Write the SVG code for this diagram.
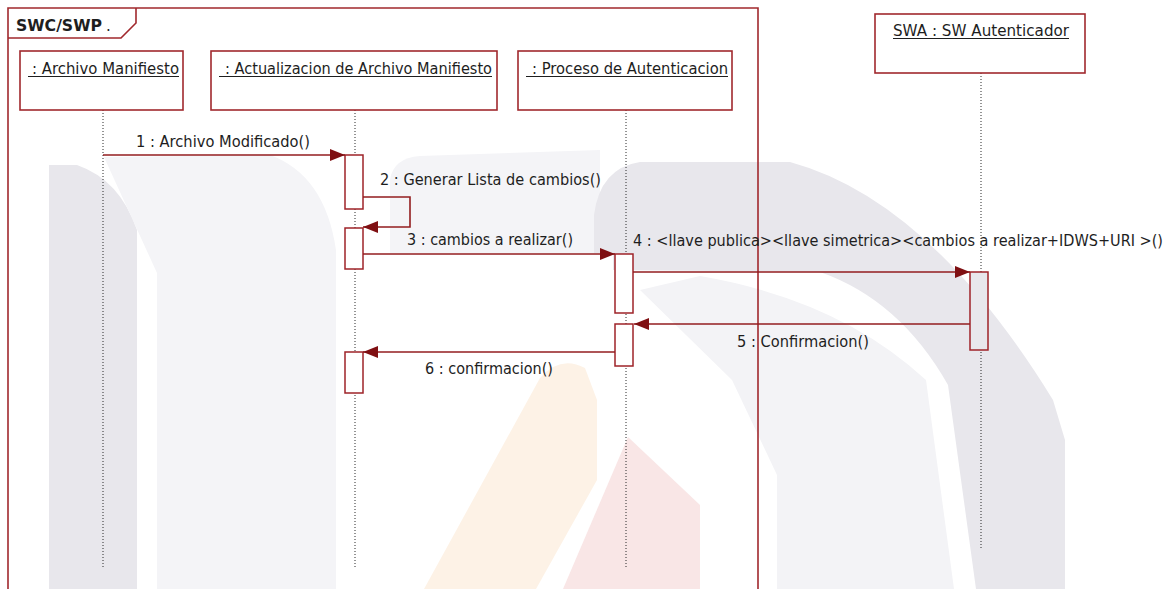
<svg xmlns="http://www.w3.org/2000/svg" width="1175" height="589" viewBox="0 0 1175 589">
<style>
.t{font-family:"DejaVu Sans","Liberation Sans",sans-serif;font-size:15px;fill:#1e1e1e}
.b{font-weight:bold}
.hd{fill:#fff;stroke:#a1282d;stroke-width:1.6}
.act{fill:#fff;stroke:#9e2328;stroke-width:1.5}
.ul{stroke:#1e1e1e;stroke-width:1}
.life{stroke:#2a2a2a;stroke-width:1;stroke-dasharray:1 2;fill:none}
.msg{fill:none;stroke:#931d1f;stroke-width:1.6}
.frame{fill:none;stroke:#a1282d;stroke-width:1.6}
</style>
<defs>
<marker id="ah" markerUnits="userSpaceOnUse" markerWidth="16" markerHeight="13" refX="15" refY="6" orient="auto" viewBox="0 0 16 13">
<path d="M0 0 L15 6 L0 12 Z" fill="#7f0f12"/>
</marker>
</defs>
<rect width="1175" height="589" fill="#fff"/>
<g id="watermark">
<path d="M49 165 L77 165 Q120 180 137 230 L137 589 L49 589 Z" fill="#e8e7ec"/>
<path d="M104 157 L270 155 Q325 175 336 250 L336 589 L157 589 L157 273 Z" fill="#f4f4f7"/>
<path d="M390 253 L390 180 Q393 158 420 156 L600 150 L600 253 Z" fill="#f4f4f7"/>
<path d="M640 290 L700 276 Q840 300 926 380 L954 589 L777 589 L777 475 L732 380 Z" fill="#f3f3f6"/>
<path d="M594 253 L594 215 Q600 168 640 162 L790 162 Q930 200 1053 400 L1065 440 L1065 589 L976 589 L948 385 Q900 300 820 272 L613 270 L613 253 Z" fill="#e8e7ec"/>
<path d="M424 589 L540 378 Q560 355 585 368 L597 400 L597 480 L536 589 Z" fill="#fdf2e6"/>
<path d="M563 589 L628 437 L700 505 L700 589 Z" fill="#f9e6e6"/>
</g>
<g id="frame">
<path class="frame" d="M8 589 L8 8 L758 8 L758 589"/>
<path class="frame" d="M8 38 L121 38 L136 23 L136 8"/>
<text class="t b" x="16" y="31" font-size="16" textLength="86" lengthAdjust="spacingAndGlyphs">SWC/SWP</text>
<text class="t" x="106" y="31">.</text>
</g>
<g id="lifelines">
<line class="life" x1="103" y1="110" x2="103" y2="568"/>
<line class="life" x1="355" y1="110" x2="355" y2="568"/>
<line class="life" x1="626" y1="110" x2="626" y2="568"/>
<line class="life" x1="981" y1="73" x2="981" y2="548"/>
</g>
<g id="archivo-manifiesto">
<rect class="hd" x="20" y="51" width="163" height="59"/>
<text class="t" x="32" y="74" textLength="147" lengthAdjust="spacingAndGlyphs">: Archivo Manifiesto</text>
<line class="ul" x1="28" y1="76.5" x2="179" y2="76.5"/>
</g>
<g id="actualizacion">
<rect class="hd" x="211" y="51" width="286" height="59"/>
<text class="t" x="225" y="74" textLength="267" lengthAdjust="spacingAndGlyphs">: Actualizacion de Archivo Manifiesto</text>
<line class="ul" x1="219" y1="76.5" x2="492" y2="76.5"/>
</g>
<g id="proceso">
<rect class="hd" x="518" y="51" width="214" height="59"/>
<text class="t" x="532" y="74" textLength="196" lengthAdjust="spacingAndGlyphs">: Proceso de Autenticacion</text>
<line class="ul" x1="526" y1="76.5" x2="728" y2="76.5"/>
</g>
<g id="swa">
<rect class="hd" x="875" y="14" width="210" height="59"/>
<text class="t" x="893" y="36" textLength="176" lengthAdjust="spacingAndGlyphs">SWA : SW Autenticador</text>
<line class="ul" x1="893" y1="38.5" x2="1069" y2="38.5"/>
</g>
<g id="activations">
<rect class="act" x="345" y="155" width="18" height="54"/>
<rect class="act" x="345" y="228" width="18" height="41"/>
<rect class="act" x="345" y="352" width="18" height="41"/>
<rect class="act" x="615" y="254" width="18" height="59"/>
<rect class="act" x="615" y="324" width="18" height="42"/>
<rect class="act" x="970" y="272" width="18" height="78" style="fill:#e8e7ec"/>
</g>
<g id="connectors">
<path class="msg" d="M103 155 H345" marker-end="url(#ah)"/>
<path class="msg" d="M363 197 H410 V227 H363" marker-end="url(#ah)"/>
<path class="msg" d="M363 254 H615" marker-end="url(#ah)"/>
<path class="msg" d="M633 272 H970" marker-end="url(#ah)"/>
<path class="msg" d="M970 324 H634" marker-end="url(#ah)"/>
<path class="msg" d="M615 352 H363" marker-end="url(#ah)"/>
</g>
<g id="labels">
<text class="t" x="136" y="147" textLength="174" lengthAdjust="spacingAndGlyphs">1 : Archivo Modificado()</text>
<text class="t" x="380" y="185" textLength="221" lengthAdjust="spacingAndGlyphs">2 : Generar Lista de cambios()</text>
<text class="t" x="407" y="245" textLength="166" lengthAdjust="spacingAndGlyphs">3 : cambios a realizar()</text>
<text class="t" x="633" y="246" font-size="14" textLength="530" lengthAdjust="spacingAndGlyphs">4 : &lt;llave publica&gt;&lt;llave simetrica&gt;&lt;cambios a realizar+IDWS+URI &gt;()</text>
<text class="t" x="737" y="347" textLength="132" lengthAdjust="spacingAndGlyphs">5 : Confirmacion()</text>
<text class="t" x="425" y="374" textLength="128" lengthAdjust="spacingAndGlyphs">6 : confirmacion()</text>
</g>
</svg>
